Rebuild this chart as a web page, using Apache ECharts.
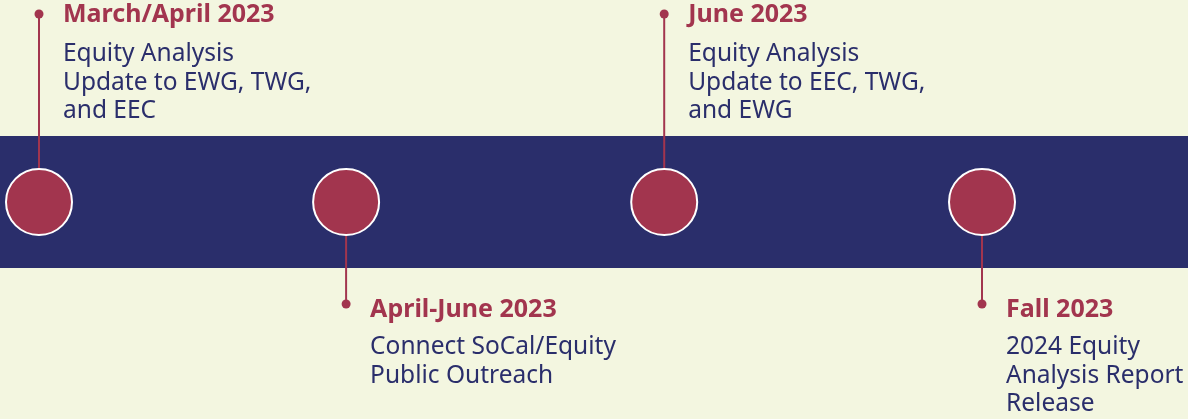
<!DOCTYPE html>
<html>
<head>
<meta charset="utf-8">
<script src="https://cdn.jsdelivr.net/npm/echarts@6/dist/echarts.min.js"></script>
<style>
  html, body { margin: 0; padding: 0; background: #f3f6e0; }
  #chart { width: 1188px; height: 419px; }
</style>
</head>
<body>
<div id="chart"></div>
<script>
'use strict';
// timeline milestones, left to right
const titles = ['March/April 2023', 'April-June 2023', 'June 2023', 'Fall 2023'];
const details = [
  ['Equity Analysis', 'Update to EWG, TWG,', 'and EEC'],
  ['Connect SoCal/Equity', 'Public Outreach'],
  ['Equity Analysis', 'Update to EEC, TWG,', 'and EWG'],
  ['2024 Equity', 'Analysis Report', 'Release']
];
// where each milestone sits along the timeline
const positions = [0, 0.977, 1.989, 3];
// which side of the band the label sits on
const sides = ['up', 'down', 'up', 'down'];

const RED = '#a2354e';
const NAVY = '#2a2e6b';
const LINE_Y = 202;

let chart = echarts.init(document.getElementById('chart'));

function renderItem(params, api) {
  let i = params.dataIndex;
  let pt = api.coord([api.value(0), LINE_Y]);
  let up = sides[i] === 'up';
  let dotY = up ? pt[1] - 188 : pt[1] + 102;
  let titleY = up ? pt[1] - 187 : pt[1] + 108;
  let bodyY = up ? pt[1] - 162 : pt[1] + 131;
  return {
    type: 'group',
    children: [
      {
        type: 'line',
        shape: { x1: pt[0], y1: pt[1], x2: pt[0], y2: dotY },
        style: { stroke: RED, lineWidth: 2 }
      },
      {
        type: 'circle',
        shape: { cx: pt[0], cy: dotY, r: 4.5 },
        style: { fill: RED }
      },
      {
        type: 'circle',
        shape: { cx: pt[0], cy: pt[1], r: 33 },
        style: { fill: RED, stroke: '#ffffff', lineWidth: 2 }
      },
      {
        type: 'text',
        x: pt[0] + 24,
        y: titleY,
        style: {
          text: titles[i],
          fill: RED,
          font: 'bold 25px "Noto Sans"',
          verticalAlign: 'middle'
        }
      },
      {
        type: 'text',
        x: pt[0] + 24,
        y: bodyY,
        style: {
          text: details[i].join('\n'),
          fill: NAVY,
          font: '24.5px "Noto Sans"',
          lineHeight: 28.5,
          verticalAlign: 'top'
        }
      }
    ]
  };
}

chart.setOption({
  backgroundColor: '#f3f6e0',
  animation: false,
  grid: { left: 39, right: 206, top: 0, bottom: 0 },
  xAxis: { type: 'value', min: 0, max: 3, show: false },
  yAxis: { type: 'value', min: 0, max: 419, inverse: true, show: false },
  series: [
    {
      type: 'custom',
      renderItem: renderItem,
      data: positions.map(p => [p]),
      clip: false,
      markArea: {
        silent: true,
        itemStyle: { color: NAVY },
        data: [[
          { x: 0, yAxis: 136 },
          { x: 1188, yAxis: 268 }
        ]]
      }
    }
  ]
});
</script>
</body>
</html>
